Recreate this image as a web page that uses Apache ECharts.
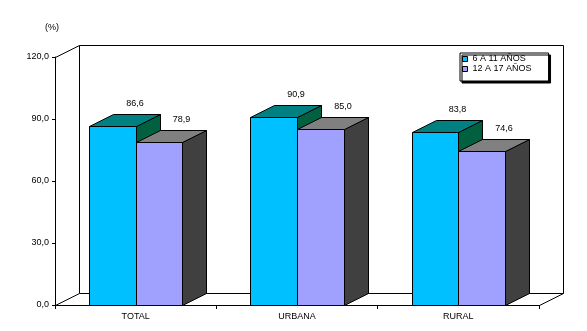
<!DOCTYPE html>
<html>
<head>
<meta charset="utf-8">
<script src="https://cdn.jsdelivr.net/npm/echarts@6/dist/echarts.min.js"></script>
<style>
  html, body { margin: 0; padding: 0; background: #ffffff; }
  #chart { width: 587px; height: 331px; }
</style>
</head>
<body>
<div id="chart"></div>
<script>
// Asistencia escolar por área de residencia (%)
const categories = ['TOTAL', 'URBANA', 'RURAL'];
const seriesNames = ['6 A 11 AÑOS', '12 A 17 AÑOS'];
const ages6to11 = [86.6, 90.9, 83.8];
const ages12to17 = [78.9, 85.0, 74.6];
const yTicks = [0, 30, 60, 90, 120];

// Pseudo-3D depth of the box and columns (pixels)
const DX = 23.5;
const DY = -12.5;
const BAR_RATIO = 0.29;
const FONT = '"Liberation Sans", Arial, sans-serif';

const palettes = [
  { front: '#00C0FF', top: '#008080', side: '#006040' },
  { front: '#A0A0FF', top: '#808080', side: '#404040' }
];

const fmt = v => v.toFixed(1).replace('.', ',');
const snap = v => Math.round(v) + 0.5;
const LINE = { stroke: '#000', lineWidth: 1, fill: null };

function frameRenderer(params, api) {
  const band = api.size([1, 0])[0];
  const yMax = yTicks[yTicks.length - 1];
  const L = snap(api.coord([0, 0])[0] - band / 2);
  const R = snap(api.coord([categories.length - 1, 0])[0] + band / 2);
  const T = snap(api.coord([0, yMax])[1]);
  const B = snap(api.coord([0, 0])[1]);
  const bx = Math.round(DX), by = Math.round(DY);
  return {
    type: 'group',
    children: [
      { type: 'polyline', shape: { points: [[L + bx, B + by], [L + bx, T + by], [R + bx, T + by], [R + bx, B + by], [L + bx, B + by]] }, style: LINE },
      { type: 'line', shape: { x1: L, y1: T, x2: L + bx, y2: T + by }, style: LINE },
      { type: 'line', shape: { x1: L, y1: B, x2: L + bx, y2: B + by }, style: LINE },
      { type: 'line', shape: { x1: R, y1: B, x2: R + bx, y2: B + by }, style: LINE }
    ]
  };
}

function barRenderer(seriesIdx) {
  const pal = palettes[seriesIdx];
  return function (params, api) {
    const ci = api.value(0);
    const v = api.value(1);
    const band = api.size([1, 0])[0];
    const w = band * BAR_RATIO;
    const c = api.coord([ci, v]);
    const base = api.coord([ci, 0]);
    const x0 = snap(c[0] + (seriesIdx === 0 ? -w : 0));
    const x1 = snap(c[0] + (seriesIdx === 0 ? 0 : w));
    const yt = snap(c[1]);
    const yb = snap(base[1]);
    const bx = Math.round(DX), by = Math.round(DY);
    const edge = { stroke: '#000', lineWidth: 1 };
    return {
      type: 'group',
      children: [
        { type: 'polygon', shape: { points: [[x1, yt], [x1 + bx, yt + by], [x1 + bx, yb + by], [x1, yb]] },
          style: Object.assign({ fill: pal.side }, edge) },
        { type: 'polygon', shape: { points: [[x0, yt], [x0 + bx, yt + by], [x1 + bx, yt + by], [x1, yt]] },
          style: Object.assign({ fill: pal.top }, edge) },
        { type: 'rect', shape: { x: x0, y: yt, width: x1 - x0, height: yb - yt },
          style: Object.assign({ fill: pal.front }, edge) },
        { type: 'text', style: {
            text: fmt(v), x: (x0 + x1) / 2 + 22, y: yt + by - 11,
            align: 'center', verticalAlign: 'middle',
            font: '9px ' + FONT, fill: '#000' } }
      ]
    };
  };
}

const chart = echarts.init(document.getElementById('chart'), null, { renderer: 'canvas' });

chart.setOption({
  animation: false,
  backgroundColor: '#ffffff',
  textStyle: { fontFamily: FONT, color: '#000' },
  grid: { left: 55, top: 57, width: 484, height: 248, containLabel: false },
  legend: {
    data: seriesNames,
    orient: 'vertical',
    left: 460, top: 53,
    padding: [1, 17, 7, 2],
    itemGap: 0,
    itemWidth: 5, itemHeight: 5,
    icon: 'rect',
    backgroundColor: '#ffffff',
    borderColor: '#000', borderWidth: 1,
    shadowColor: '#000', shadowBlur: 0, shadowOffsetX: 2, shadowOffsetY: 2,
    itemStyle: { borderColor: '#000', borderWidth: 1 },
    textStyle: { fontSize: 9, lineHeight: 10, color: '#000', fontFamily: FONT }
  },
  xAxis: {
    type: 'category',
    data: categories,
    axisLine: { lineStyle: { color: '#000', width: 1 } },
    axisTick: { show: true, length: 4, lineStyle: { color: '#000' } },
    axisLabel: { fontSize: 9, color: '#000', margin: 7 },
    splitLine: { show: false }
  },
  yAxis: {
    type: 'value',
    min: yTicks[0], max: yTicks[yTicks.length - 1], interval: yTicks[1] - yTicks[0],
    name: '(%)',
    nameLocation: 'end',
    nameGap: 25,
    nameTextStyle: { fontSize: 9, color: '#000', align: 'center', padding: [0, 6, 0, 0] },
    axisLine: { show: true, lineStyle: { color: '#000', width: 1 } },
    axisTick: { show: true, length: 3, lineStyle: { color: '#000' } },
    axisLabel: { fontSize: 9, color: '#000', margin: 6, formatter: v => fmt(v) },
    splitLine: { show: false }
  },
  series: [
    {
      name: 'frame', type: 'custom', z: 1, silent: true, clip: false,
      renderItem: frameRenderer,
      data: [[0, 0]],
      encode: { x: 0, y: 1 }
    },
    {
      name: seriesNames[0], type: 'custom', z: 2, clip: false,
      itemStyle: { color: palettes[0].front, borderColor: '#000', borderWidth: 1 },
      renderItem: barRenderer(0),
      data: ages6to11.map((v, i) => [i, v]),
      encode: { x: 0, y: 1 }
    },
    {
      name: seriesNames[1], type: 'custom', z: 3, clip: false,
      itemStyle: { color: palettes[1].front, borderColor: '#000', borderWidth: 1 },
      renderItem: barRenderer(1),
      data: ages12to17.map((v, i) => [i, v]),
      encode: { x: 0, y: 1 }
    }
  ]
});
</script>
</body>
</html>
